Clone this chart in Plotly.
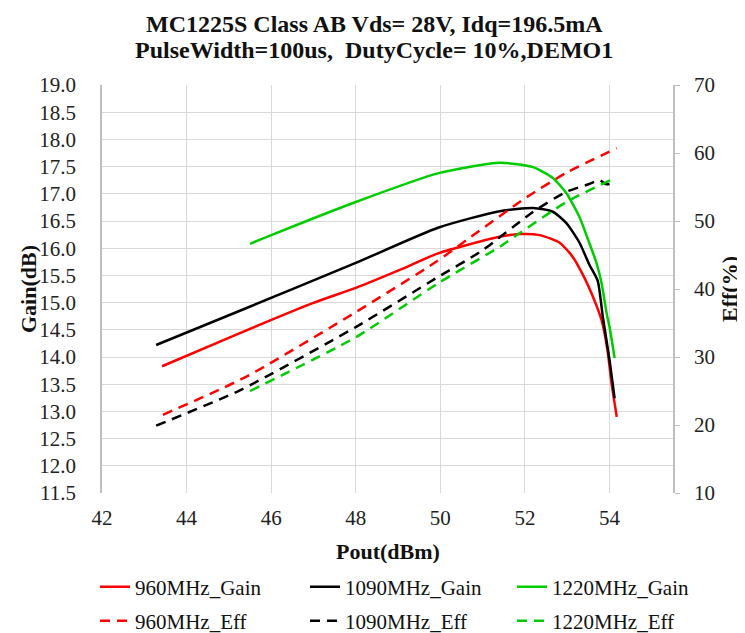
import plotly.graph_objects as go

# ---- data ----
x_g960 = [43.42, 45.26, 46.98, 48.0, 49.04, 49.96, 51.4, 51.87, 52.35, 52.82, 53.13, 53.41, 53.6, 53.81, 53.95, 54.05, 54.17]
y_g960 = [13.83, 14.44, 14.99, 15.27, 15.6, 15.91, 16.21, 16.26, 16.24, 16.1, 15.84, 15.45, 15.12, 14.68, 14.13, 13.5, 12.9]

x_g1090 = [43.28, 45.26, 48.0, 49.96, 51.4, 52.19, 52.66, 52.98, 53.29, 53.52, 53.72, 53.84, 54.0, 54.12]
y_g1090 = [14.22, 14.85, 15.73, 16.38, 16.68, 16.74, 16.67, 16.46, 16.1, 15.7, 15.4, 14.74, 13.94, 13.24]

x_g1220 = [45.5, 46.0, 48.0, 49.96, 51.42, 52.19, 52.66, 52.98, 53.29, 53.52, 53.69, 53.81, 53.93, 54.0, 54.12]
y_g1220 = [16.08, 16.24, 16.85, 17.38, 17.57, 17.49, 17.29, 17.01, 16.57, 16.1, 15.73, 15.36, 14.81, 14.55, 13.98]

x_e960 = [43.44, 45.38, 48.0, 49.9, 50.62, 52.04, 52.98, 54.17]
y_e960 = [21.5, 27.0, 36.6, 44.0, 47.2, 53.5, 57.1, 60.7]

x_e1090 = [43.28, 45.26, 48.0, 49.9, 51.0, 52.18, 52.98, 53.5, 53.76, 53.92, 54.12]
y_e1090 = [19.9, 25.1, 34.4, 41.6, 45.7, 51.3, 54.3, 55.4, 56.0, 55.4, 55.6]

x_e1220 = [45.5, 48.0, 49.96, 51.4, 51.8, 52.98, 54.12]
y_e1220 = [25.0, 32.9, 40.9, 46.2, 47.9, 52.8, 56.3]

RED = "#FF0000"
BLACK = "#000000"
GREEN = "#00CC00"
FONT = "Liberation Serif"
DASH = "10px,7px"

# plot area in reference pixels (left, right, top, bottom)
PL, PR, PT, PB = 102, 673, 85, 493
PW, PH = PR - PL, PB - PT


def px(xr):
    return (xr - PL) / PW


def py(yr):
    return (PB - yr) / PH


fig = go.Figure()
common = dict(mode="lines", line_shape="spline")
series = [
    (x_g960, y_g960, "960MHz_Gain", RED, "solid", "y", "legend"),
    (x_g1090, y_g1090, "1090MHz_Gain", BLACK, "solid", "y", "legend2"),
    (x_g1220, y_g1220, "1220MHz_Gain", GREEN, "solid", "y", "legend3"),
    (x_e960, y_e960, "960MHz_Eff", RED, DASH, "y2", "legend4"),
    (x_e1090, y_e1090, "1090MHz_Eff", BLACK, DASH, "y2", "legend5"),
    (x_e1220, y_e1220, "1220MHz_Eff", GREEN, DASH, "y2", "legend6"),
]
for xs, ys, name, color, dash, yax, leg in series:
    fig.add_trace(go.Scatter(x=xs, y=ys, name=name, yaxis=yax, legend=leg,
                             line=dict(color=color, width=2.5, dash=dash, smoothing=0.6), **common))

# legend item text starts (reference px) and row centres
text_x = [135, 345, 552]
row_y = [587, 621]
legends = {}
names = ["legend", "legend2", "legend3", "legend4", "legend5", "legend6"]
for i, ln in enumerate(names):
    legends[ln] = dict(
        orientation="h", xref="paper", yref="paper",
        x=px(text_x[i % 3] - 40), y=py(row_y[i // 3]),
        xanchor="left", yanchor="middle", itemwidth=30,
        font=dict(family=FONT, size=21, color="#111111"),
        bgcolor="rgba(0,0,0,0)", borderwidth=0,
    )

title_font = dict(family=FONT, size=24, color="#111111")
axis_title_font = dict(family=FONT, size=22, color="#111111")

# page has an 8px body margin, so the figure is drawn 8px smaller and offset
OFF = 8
fig.update_layout(
    width=745 - OFF, height=633 - OFF,
    paper_bgcolor="white", plot_bgcolor="white",
    margin=dict(l=PL - OFF, r=745 - PR, t=PT - OFF, b=633 - PB, autoexpand=False),
    font=dict(family=FONT, size=21, color="#222222"),
    xaxis=dict(
        range=[42, 55.5], tick0=42, dtick=2, automargin=False,
        showgrid=True, gridcolor="#D9D9D9", gridwidth=1,
        showline=False, zeroline=False, ticks="", ticklabelstandoff=10,
        tickfont=dict(family=FONT, size=21, color="#222222"),
    ),
    yaxis=dict(
        range=[11.5, 19.0], dtick=0.5, tickformat=".1f", automargin=False,
        showgrid=True, gridcolor="#D9D9D9", gridwidth=1,
        showline=True, linecolor="#BFBFBF", linewidth=1.5, zeroline=False,
        ticks="", ticklabelstandoff=20,
        tickfont=dict(family=FONT, size=21, color="#222222"),
    ),
    yaxis2=dict(
        range=[10, 70], dtick=10, overlaying="y", side="right", automargin=False,
        showgrid=False, showline=True, linecolor="#BFBFBF", linewidth=1.5, zeroline=False,
        ticks="outside", ticklen=5, tickcolor="#BFBFBF", ticklabelstandoff=10,
        tickfont=dict(family=FONT, size=21, color="#222222"),
    ),
    showlegend=True,
    annotations=[
        dict(text="<b>MC1225S Class AB Vds= 28V, Idq=196.5mA</b>", xref="paper", yref="paper",
             x=px(374), y=py(24), xanchor="center", yanchor="middle",
             showarrow=False, font=title_font, borderpad=0),
        dict(text="<b>PulseWidth=100us,  DutyCycle= 10%,DEMO1</b>", xref="paper", yref="paper",
             x=px(374), y=py(50), xanchor="center", yanchor="middle",
             showarrow=False, font=title_font, borderpad=0),
        dict(text="<b>Pout(dBm)</b>", xref="paper", yref="paper",
             x=px(388), y=py(551), xanchor="center", yanchor="middle",
             showarrow=False, font=axis_title_font),
        dict(text="<b>Gain(dB)</b>", xref="paper", yref="paper", textangle=-90,
             x=px(28), y=0.5, xanchor="center", yanchor="middle",
             showarrow=False, font=axis_title_font),
        dict(text="<b>Eff(%)</b>", xref="paper", yref="paper", textangle=-90,
             x=px(729), y=0.5, xanchor="center", yanchor="middle",
             showarrow=False, font=axis_title_font),
    ],
    **legends,
)

fig.write_html("out.html")
